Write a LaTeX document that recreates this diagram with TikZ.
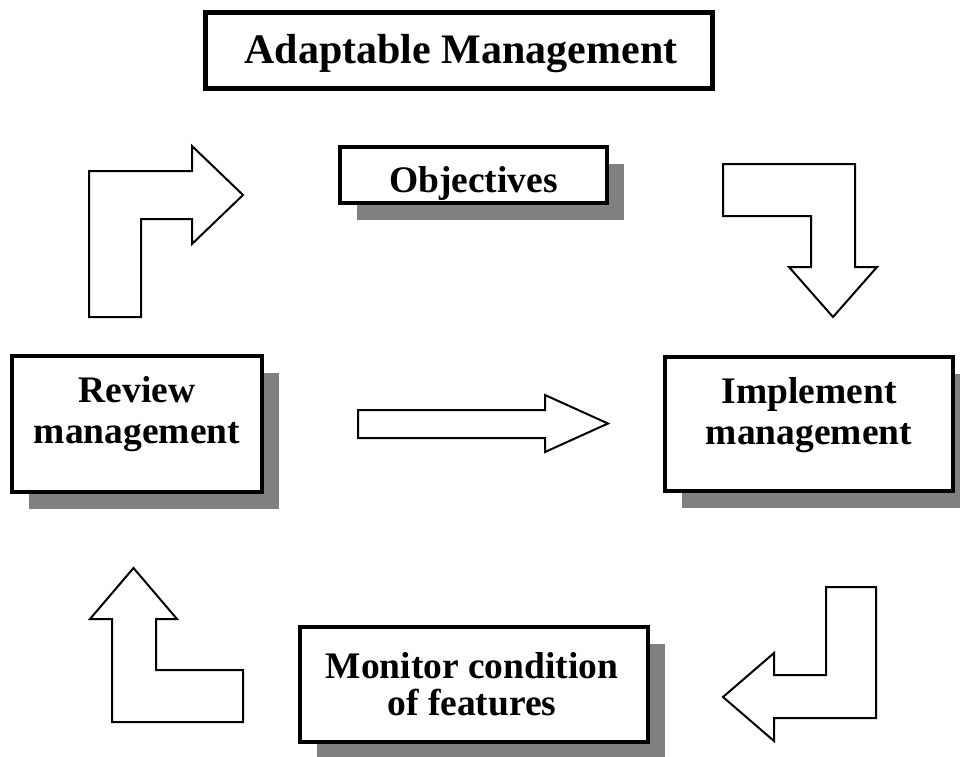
\documentclass[tikz,border=0pt]{standalone}
\usepackage{fontspec}
\setmainfont{Liberation Serif}
\usetikzlibrary{shadows}
\begin{document}
\begin{tikzpicture}[x=1pt,y=-1pt,
  box/.style={draw, line width=3.5pt, fill=white, rectangle, inner sep=0pt,
    drop shadow={shadow xshift=17pt, shadow yshift=-17pt, fill=black!50, opacity=1}},
  titlebox/.style={draw, line width=5pt, fill=white, rectangle, inner sep=0pt},
  lbl/.style={font=\bfseries\fontsize{37.5}{41}\selectfont, align=center, inner sep=0pt},
  bent/.style={draw, line width=2pt, fill=white, line join=miter}]
\useasboundingbox (0,0) rectangle (960,756);

% boxes
\node[titlebox, minimum width=507pt, minimum height=76pt] (title) at (458.5,50) {};
\node[lbl, font=\bfseries\fontsize{42}{48}\selectfont] (titlet) at (461,54) {Adaptable Management};

\node[box, minimum width=267pt, minimum height=56pt] (obj) at (473.5,175) {};
\node[lbl] (objt) at (473.5,183) {Objectives};

\node[box, minimum width=250pt, minimum height=136pt] (rev) at (137,424) {};
\node[lbl] (revt) at (137,414) {Review\\management};

\node[box, minimum width=288pt, minimum height=134pt] (imp) at (809,424) {};
\node[lbl] (impt) at (809,415) {Implement\\management};

\node[box, minimum width=348pt, minimum height=115pt] (mon) at (474,684.5) {};
\node[lbl, font=\bfseries\fontsize{37.5}{37}\selectfont] (mont) at (472,684) {Monitor condition\\of features};

% bent block arrows
\draw[bent] (89,317) -- (89,171) -- (192,171) -- (192,146) -- (243,195) -- (192,244) -- (192,219) -- (141,219) -- (141,317) -- cycle;
\draw[bent] (723,164) -- (855,164) -- (855,267) -- (877,267) -- (833,317) -- (789,267) -- (811,267) -- (811,216) -- (723,216) -- cycle;
\draw[bent] (358,410) -- (545,410) -- (545,395) -- (608,423.5) -- (545,452) -- (545,438) -- (358,438) -- cycle;
\draw[bent] (133.5,568) -- (177,619) -- (156,619) -- (156,670) -- (243,670) -- (243,722) -- (112,722) -- (112,619) -- (90,619) -- cycle;
\draw[bent] (826,587) -- (876,587) -- (876,718) -- (774,718) -- (774,741) -- (723,697) -- (774,653) -- (774,675) -- (826,675) -- cycle;
\end{tikzpicture}
\end{document}
